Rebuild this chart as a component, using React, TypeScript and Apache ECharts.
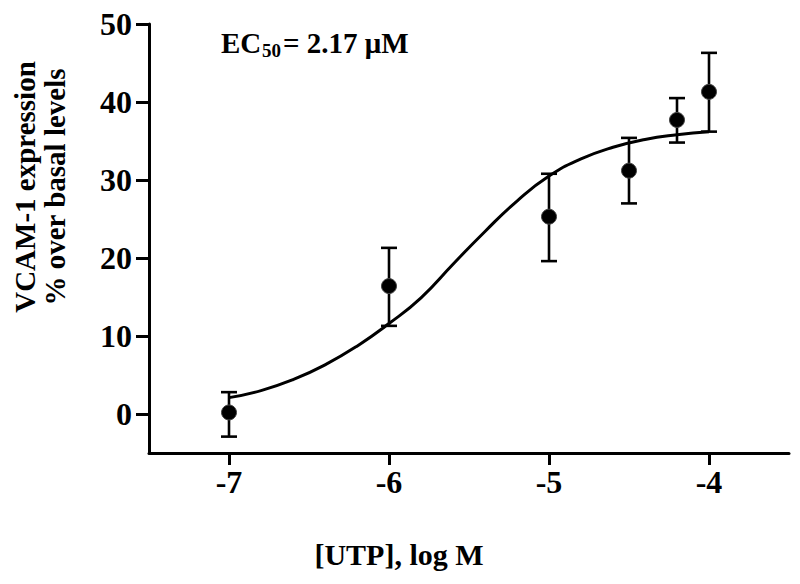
import React, { useEffect, useRef } from "react";
import * as echarts from "echarts";

const xTicks = [-7, -6, -5, -4];
const yTicks = [0, 10, 20, 30, 40, 50];

const doseLog = [-7, -6, -5, -4.5, -4.2, -4];
const meanResp = [0.2, 16.4, 25.3, 31.2, 37.7, 41.3];
const errLow = [-2.9, 11.3, 19.6, 27.0, 34.8, 36.2];
const errHigh = [2.8, 21.3, 30.8, 35.4, 40.5, 46.3];

const curveX = [-7.0, -6.8, -6.6, -6.4, -6.2, -6.0, -5.8, -5.6, -5.4, -5.2, -5.0, -4.8, -4.6, -4.4, -4.2, -4.0];
const curveY = [2.1, 3.0, 4.4, 6.3, 8.7, 11.6, 14.9, 19.2, 23.4, 27.3, 30.5, 32.7, 34.2, 35.2, 35.8, 36.2];

const FONT = "'Liberation Serif', 'Times New Roman', serif";

export default function App() {
  const ref = useRef<HTMLDivElement>(null);
  useEffect(() => {
    if (!ref.current) return;
    const chart = echarts.init(ref.current, null, { renderer: "svg" });
    const axisText = { fontFamily: FONT, fontWeight: "bold", fontSize: 32, color: "#000" };
    chart.setOption({
      animation: false,
      backgroundColor: "#ffffff",
      grid: { left: 149, right: 11, top: 24, bottom: 131 },
      xAxis: {
        type: "value",
        min: -7.5,
        max: -3.5,
        splitLine: { show: false },
        axisLine: { show: true, onZero: false, lineStyle: { color: "#000", width: 3 } },
        axisTick: { show: true, length: 12, customValues: xTicks, lineStyle: { color: "#000", width: 3 } },
        axisLabel: { ...axisText, margin: 13, customValues: xTicks, formatter: (v: number) => String(v) },
      },
      yAxis: {
        type: "value",
        min: -5,
        max: 50,
        splitLine: { show: false },
        axisLine: { show: true, onZero: false, lineStyle: { color: "#000", width: 3 } },
        axisTick: { show: true, length: 13, customValues: yTicks, lineStyle: { color: "#000", width: 3 } },
        axisLabel: { ...axisText, margin: 17, customValues: yTicks },
      },
      series: [
        {
          type: "line",
          data: curveX.map((x, i) => [x, curveY[i]]),
          smooth: true,
          showSymbol: false,
          symbol: "none",
          lineStyle: { color: "#000", width: 3 },
          z: 2,
        },
        {
          type: "custom",
          data: doseLog.map((x, i) => [x, errLow[i], errHigh[i]]),
          renderItem: (params: any, api: any) => {
            const x = api.value(0);
            const lo = api.coord([x, api.value(1)]);
            const hi = api.coord([x, api.value(2)]);
            const hw = 8;
            const style = { stroke: "#000", lineWidth: 2.6 };
            return {
              type: "group",
              children: [
                { type: "line", shape: { x1: lo[0], y1: lo[1], x2: hi[0], y2: hi[1] }, style },
                { type: "line", shape: { x1: hi[0] - hw, y1: hi[1], x2: hi[0] + hw, y2: hi[1] }, style },
                { type: "line", shape: { x1: lo[0] - hw, y1: lo[1], x2: lo[0] + hw, y2: lo[1] }, style },
              ],
            };
          },
          z: 3,
        },
        {
          type: "scatter",
          data: doseLog.map((x, i) => [x, meanResp[i]]),
          symbol: "circle",
          symbolSize: 15,
          itemStyle: { color: "#000", borderColor: "#444", borderWidth: 1, opacity: 1 },
          z: 4,
        },
      ],
      graphic: [
        {
          type: "text",
          x: 40,
          y: 187,
          rotation: Math.PI / 2,
          style: {
            text: "VCAM-1 expression\n% over basal levels",
            font: `bold 29px ${FONT}`,
            fill: "#000",
            align: "center",
            verticalAlign: "middle",
            lineHeight: 30,
          },
        },
        {
          type: "text",
          x: 399,
          y: 554,
          style: {
            text: "[UTP], log M",
            font: `bold 30px ${FONT}`,
            fill: "#000",
            align: "center",
            verticalAlign: "middle",
          },
        },
        {
          type: "text",
          x: 221,
          y: 43,
          style: { text: "EC", font: `bold 29px ${FONT}`, fill: "#000", align: "left", verticalAlign: "middle" },
        },
        {
          type: "text",
          x: 262,
          y: 50,
          style: { text: "50", font: `bold 19px ${FONT}`, fill: "#000", align: "left", verticalAlign: "middle" },
        },
        {
          type: "text",
          x: 283,
          y: 43,
          style: { text: "= 2.17 μM", font: `bold 29px ${FONT}`, fill: "#000", align: "left", verticalAlign: "middle" },
        },
      ],
    });
    return () => chart.dispose();
  }, []);
  return <div ref={ref} style={{ width: 800, height: 584, position: "absolute", left: 0, top: 0 }} />;
}
